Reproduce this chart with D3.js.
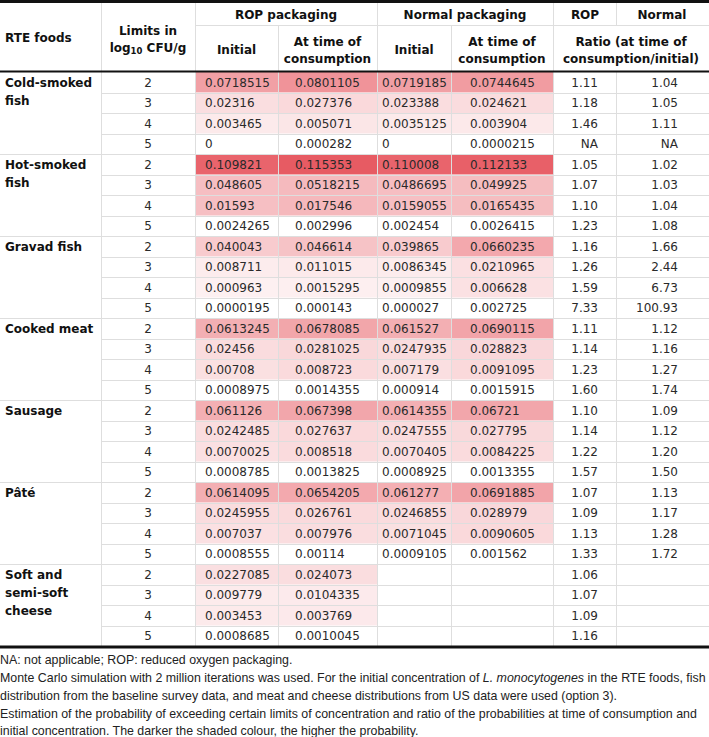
<!DOCTYPE html>
<html><head><meta charset="utf-8">
<script src="https://cdn.jsdelivr.net/npm/d3@7/dist/d3.min.js"></script>
<style>html,body{margin:0;padding:0;background:#fff;} svg{display:block;}</style>
</head><body><svg id="c" width="709" height="737"></svg>
<script>
// ---------- data ----------
const foods = [["Cold-smoked","fish"],["Hot-smoked","fish"],["Gravad fish"],["Cooked meat"],["Sausage"],["Pâté"],["Soft and","semi-soft","cheese"]];
const limits = ["2","3","4","5"];
const ropInitial = [
 "0.0718515","0.02316","0.003465","0",
 "0.109821","0.048605","0.01593","0.0024265",
 "0.040043","0.008711","0.000963","0.0000195",
 "0.0613245","0.02456","0.00708","0.0008975",
 "0.061126","0.0242485","0.0070025","0.0008785",
 "0.0614095","0.0245955","0.007037","0.0008555",
 "0.0227085","0.009779","0.003453","0.0008685"];
const ropConsumption = [
 "0.0801105","0.027376","0.005071","0.000282",
 "0.115353","0.0518215","0.017546","0.002996",
 "0.046614","0.011015","0.0015295","0.000143",
 "0.0678085","0.0281025","0.008723","0.0014355",
 "0.067398","0.027637","0.008518","0.0013825",
 "0.0654205","0.026761","0.007976","0.00114",
 "0.024073","0.0104335","0.003769","0.0010045"];
const normalInitial = [
 "0.0719185","0.023388","0.0035125","0",
 "0.110008","0.0486695","0.0159055","0.002454",
 "0.039865","0.0086345","0.0009855","0.000027",
 "0.061527","0.0247935","0.007179","0.000914",
 "0.0614355","0.0247555","0.0070405","0.0008925",
 "0.061277","0.0246855","0.0071045","0.0009105",
 "","","",""];
const normalConsumption = [
 "0.0744645","0.024621","0.003904","0.0000215",
 "0.112133","0.049925","0.0165435","0.0026415",
 "0.0660235","0.0210965","0.006628","0.002725",
 "0.0690115","0.028823","0.0091095","0.0015915",
 "0.06721","0.027795","0.0084225","0.0013355",
 "0.0691885","0.028979","0.0090605","0.001562",
 "","","",""];
const ratioROP = [
 "1.11","1.18","1.46","NA",
 "1.05","1.07","1.10","1.23",
 "1.16","1.26","1.59","7.33",
 "1.11","1.14","1.23","1.60",
 "1.10","1.14","1.22","1.57",
 "1.07","1.09","1.13","1.33",
 "1.06","1.07","1.09","1.16"];
const ratioNormal = [
 "1.04","1.05","1.11","NA",
 "1.02","1.03","1.04","1.08",
 "1.66","2.44","6.73","100.93",
 "1.12","1.16","1.27","1.74",
 "1.09","1.12","1.20","1.50",
 "1.13","1.17","1.28","1.72",
 "","","",""];
// shading domain maximum per limit (null = no shading)
const shadeMax = [0.121, 0.118, 0.039, null];

const footer = [
 [["NA: not applicable; ROP: reduced oxygen packaging.",false]],
 [["Monte Carlo simulation with 2 million iterations was used. For the initial concentration of ",false],["L. monocytogenes",true],[" in the RTE foods, fish",false]],
 [["distribution from the baseline survey data, and meat and cheese distributions from US data were used (option 3).",false]],
 [["Estimation of the probability of exceeding certain limits of concentration and ratio of the probabilities at time of consumption and",false]],
 [["initial concentration. The darker the shaded colour, the higher the probability.",false]]
];

// ---------- layout ----------
const W = 709;
const colEdges = [0,101,195,278,377,451,553,616,709];
const headTop = 1.5, headMid = 25, headBottom = 71.5, bodyBottom = 646.5;
const nRows = foods.length * limits.length;
const y = d3.scaleBand().domain(d3.range(nRows)).range([headBottom + 0.5, bodyBottom - 0.5]);
const svg = d3.select("#c");
const bodyFont = "'DejaVu Sans', Verdana, sans-serif";
const textCol = "#2a2a2a";
const gridCol = "#dedede";

const rows = d3.range(nRows).map(i => ({i, g: Math.floor(i/4), li: i%4}));

const colorInterp = d3.interpolateRgb("#fdf1f2", "#e6515a");
const shade = (v, li) => {
  if (v === "" || shadeMax[li] === null) return null;
  const s = d3.scalePow().exponent(1.3).domain([0, shadeMax[li]]).range([0,1]).clamp(true);
  return colorInterp(s(+v));
};

// value columns
const valueCols = [
  {data: ropInitial, ci: 2, x: 205, anchor: "start", shaded: true},
  {data: ropConsumption, ci: 3, x: 295, anchor: "start", shaded: true},
  {data: normalInitial, ci: 4, x: 382, anchor: "start", shaded: true},
  {data: normalConsumption, ci: 5, x: 470, anchor: "start", shaded: true},
  {data: ratioROP, ci: 6, x: 598, anchor: "end", shaded: false},
  {data: ratioNormal, ci: 7, x: 678, anchor: "end", shaded: false}
];

// shading rects
valueCols.filter(c => c.shaded).forEach(c => {
  svg.append("g").selectAll("rect").data(rows.filter(r => shade(c.data[r.i], r.li)))
    .join("rect")
    .attr("x", colEdges[c.ci]).attr("width", colEdges[c.ci+1]-colEdges[c.ci])
    .attr("y", r => y(r.i)).attr("height", y.bandwidth())
    .attr("fill", r => shade(c.data[r.i], r.li));
});

// grid lines
const grid = svg.append("g").attr("stroke", gridCol).attr("stroke-width", 1);
d3.range(1, nRows).forEach(i => {
  const yy = Math.round(y(i)) + 0.5;
  grid.append("line").attr("x1", i % 4 === 0 ? 0 : colEdges[1]).attr("x2", W).attr("y1", yy).attr("y2", yy);
});
colEdges.slice(1, -1).forEach(x => {
  grid.append("line").attr("x1", x+0.5).attr("x2", x+0.5).attr("y1", headBottom).attr("y2", bodyBottom);
});
// header grid
[101,195,377,553].forEach(x => grid.append("line").attr("x1", x+0.5).attr("x2", x+0.5).attr("y1", headTop).attr("y2", headBottom));
[278,451].forEach(x => grid.append("line").attr("x1", x+0.5).attr("x2", x+0.5).attr("y1", headMid).attr("y2", headBottom));
grid.append("line").attr("x1", 616.5).attr("x2", 616.5).attr("y1", headTop).attr("y2", headMid);
grid.append("line").attr("x1", 195).attr("x2", W).attr("y1", headMid+0.5).attr("y2", headMid+0.5);

// thick rules
svg.append("line").attr("x1",0).attr("x2",W).attr("y1",headTop).attr("y2",headTop).attr("stroke","#111").attr("stroke-width",3);
svg.append("line").attr("x1",0).attr("x2",W).attr("y1",headBottom).attr("y2",headBottom).attr("stroke","#111").attr("stroke-width",2);
svg.append("line").attr("x1",0).attr("x2",W).attr("y1",bodyBottom+0.5).attr("y2",bodyBottom+0.5).attr("stroke","#111").attr("stroke-width",3);

// header text
const hb = svg.append("g").attr("font-family", bodyFont).attr("font-weight", "bold").attr("font-size", 12).attr("fill", "#111");
const htext = (t, x, yy, anchor="middle") => hb.append("text").attr("x", x).attr("y", yy).attr("text-anchor", anchor).text(t);
htext("RTE foods", 5, 42, "start");
htext("Limits in", 148, 35);
const lg = hb.append("text").attr("x", 148).attr("y", 52).attr("text-anchor", "middle");
lg.append("tspan").text("log");
lg.append("tspan").attr("font-size", 8.5).attr("dy", 2).text("10");
lg.append("tspan").attr("dy", -2).text(" CFU/g");
htext("ROP packaging", 286, 19);
htext("Normal packaging", 465, 19);
htext("ROP", 585, 19);
htext("Normal", 662, 19);
htext("Initial", 236.5, 54);
htext("At time of", 327.5, 46);
htext("consumption", 327.5, 63);
htext("Initial", 414, 54);
htext("At time of", 502, 46);
htext("consumption", 502, 63);
htext("Ratio (at time of", 631, 46);
htext("consumption/initial)", 631, 63);

// food labels
const fl = svg.append("g").attr("font-family", bodyFont).attr("font-weight", "bold").attr("font-size", 12).attr("fill", "#111");
foods.forEach((lines, g) => {
  const t = fl.append("text").attr("x", 5).attr("y", y(g*4) + y.bandwidth()/2 + 4.5);
  lines.forEach((ln, k) => t.append("tspan").attr("x", 5).attr("dy", k === 0 ? 0 : 18).text(ln));
});

// body text
const bt = svg.append("g").attr("font-family", bodyFont).attr("font-size", 12).attr("fill", textCol);
bt.selectAll("text.lim").data(rows).join("text").attr("class","lim")
  .attr("x", 148).attr("y", r => y(r.i) + y.bandwidth()/2 + 4.5).attr("text-anchor","middle")
  .text(r => limits[r.li]);
valueCols.forEach(c => {
  bt.append("g").selectAll("text").data(rows.filter(r => c.data[r.i] !== "")).join("text")
    .attr("x", c.x).attr("y", r => y(r.i) + y.bandwidth()/2 + 4.5).attr("text-anchor", c.anchor)
    .text(r => c.data[r.i]);
});

// footer
const ff = svg.append("g").attr("font-family", "'Liberation Sans', Arial, sans-serif").attr("fill", "#222");
const footY = [664, 682, 700, 718, 735];
const ftexts = footer.map((parts, k) => {
  const t = ff.append("text").attr("x", 0).attr("y", footY[k]).attr("font-size", 12);
  parts.forEach(p => t.append("tspan").attr("font-style", p[1] ? "italic" : null).text(p[0]));
  return t;
});
const w2 = ftexts[1].node().getComputedTextLength();
const fs = 12 * 706 / w2;
ftexts.forEach(t => t.attr("font-size", fs));
</script>
</body></html>
